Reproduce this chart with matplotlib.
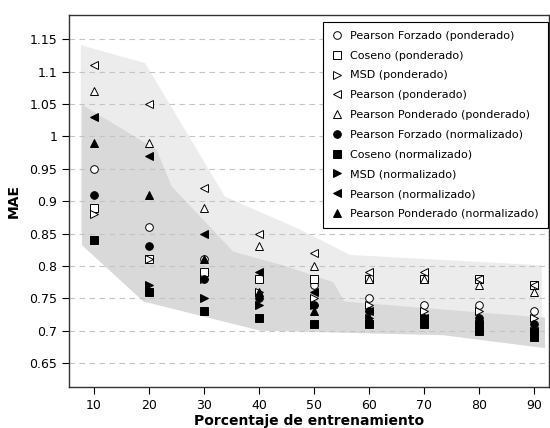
import matplotlib
matplotlib.use("Agg")
import matplotlib.pyplot as plt

# training percentage
x = [10, 20, 30, 40, 50, 60, 70, 80, 90]

# ponderado series
pf_pond = [0.95, 0.86, 0.81, 0.78, 0.77, 0.75, 0.74, 0.74, 0.73]
cos_pond = [0.89, 0.81, 0.79, 0.78, 0.78, 0.78, 0.78, 0.78, 0.77]
msd_pond = [0.88, 0.81, 0.78, 0.76, 0.75, 0.74, 0.73, 0.73, 0.72]
pear_pond = [1.11, 1.05, 0.92, 0.85, 0.82, 0.79, 0.79, 0.78, 0.77]
pp_pond = [1.07, 0.99, 0.89, 0.83, 0.80, 0.78, 0.78, 0.77, 0.76]

# normalizado series
pf_norm = [0.91, 0.83, 0.78, 0.75, 0.74, 0.73, 0.72, 0.72, 0.71]
cos_norm = [0.84, 0.76, 0.73, 0.72, 0.71, 0.71, 0.71, 0.70, 0.69]
msd_norm = [0.84, 0.77, 0.75, 0.74, 0.74, 0.72, 0.72, 0.71, 0.70]
pear_norm = [1.03, 0.97, 0.85, 0.79, 0.76, 0.73, 0.72, 0.71, 0.70]
pp_norm = [0.99, 0.91, 0.81, 0.76, 0.73, 0.72, 0.72, 0.71, 0.70]

# shaded regions (outline of each group)
band_pond_x = [7.6, 19.3, 33.8, 47.5, 56.5, 91.4, 91.4, 50, 30, 20, 7.6]
band_pond_y = [1.141, 1.113, 0.907, 0.856, 0.817, 0.801, 0.715, 0.74, 0.77, 0.80, 0.85]
band_norm_x = [7.8, 21.4, 24.1, 35.3, 44.7, 53.5, 55.5, 92, 92, 73.5, 40.2, 19, 7.8]
band_norm_y = [1.049, 0.979, 0.923, 0.822, 0.80, 0.775, 0.745, 0.72, 0.673, 0.693, 0.70, 0.745, 0.832]

series = [
    ("Pearson Forzado (ponderado)", pf_pond, "o", "white"),
    ("Coseno (ponderado)", cos_pond, "s", "white"),
    ("MSD (ponderado)", msd_pond, ">", "white"),
    ("Pearson (ponderado)", pear_pond, "<", "white"),
    ("Pearson Ponderado (ponderado)", pp_pond, "^", "white"),
    ("Pearson Forzado (normalizado)", pf_norm, "o", "black"),
    ("Coseno (normalizado)", cos_norm, "s", "black"),
    ("MSD (normalizado)", msd_norm, ">", "black"),
    ("Pearson (normalizado)", pear_norm, "<", "black"),
    ("Pearson Ponderado (normalizado)", pp_norm, "^", "black"),
]

fig = plt.figure(figsize=(5.5, 4.28), dpi=100)
ax = fig.add_axes([0.1255, 0.095, 0.8725, 0.87])

ax.fill(band_pond_x, band_pond_y, color="#ececec", lw=0, zorder=1)
ax.fill(band_norm_x, band_norm_y, color="#d9d9d9", lw=0, zorder=1.5)

yticks = [0.65, 0.7, 0.75, 0.8, 0.85, 0.9, 0.95, 1, 1.05, 1.1, 1.15]
for yv in yticks:
    ax.axhline(yv, color="#c4c4c4", lw=0.8, ls=(0, (5, 4)), zorder=2)

for label, vals, marker, face in series:
    ax.plot(x, vals, ls="none", marker=marker, markersize=5.5,
            markerfacecolor=face, markeredgecolor="black",
            markeredgewidth=0.7, label=label, zorder=3)

ax.set_xlim(5.45, 92.7)
ax.set_ylim(0.6125, 1.1875)
ax.set_xticks(x)
ax.set_yticks(yticks)
ax.set_yticklabels(["0.65", "0.7", "0.75", "0.8", "0.85", "0.9", "0.95",
                    "1", "1.05", "1.1", "1.15"])
ax.tick_params(axis="both", direction="out", length=5, labelsize=9,
               top=False, right=False)
for sp in ax.spines.values():
    sp.set_linewidth(1.0)
    sp.set_color("#333333")

ax.set_xlabel("Porcentaje de entrenamiento", fontsize=10, fontweight="bold",
              labelpad=1)
ax.set_ylabel("MAE", fontsize=10, fontweight="bold", labelpad=6)

leg = ax.legend(loc="upper right", bbox_to_anchor=(0.998, 0.981),
                borderaxespad=0, fontsize=8, numpoints=1, handlelength=1.0,
                handletextpad=0.7, labelspacing=0.88, borderpad=0.8,
                fancybox=False, framealpha=1, edgecolor="black")
leg.get_frame().set_linewidth(0.8)
leg.set_zorder(5)

fig.savefig("out.png", dpi=100)
